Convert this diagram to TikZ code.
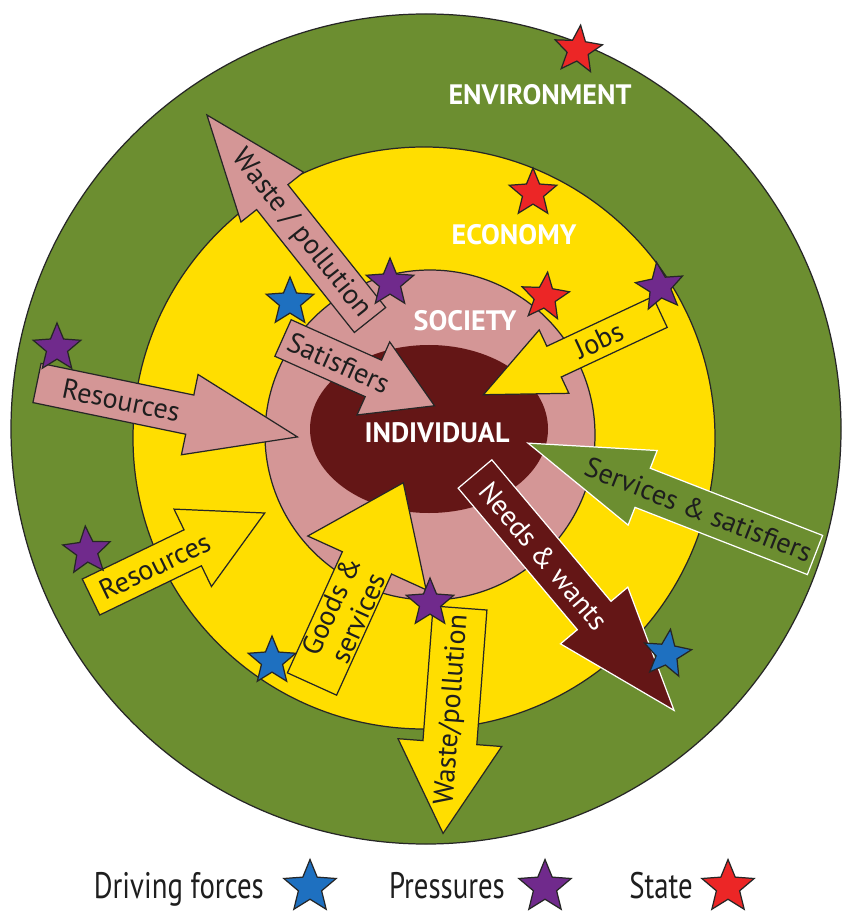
\documentclass[tikz,border=0pt]{standalone}
\usepackage{fontspec}
\setmainfont{PT Sans}
\newfontfamily\legendfont[FakeStretch=0.78]{PT Sans}
\usetikzlibrary{shapes.geometric}

\definecolor{envgreen}{RGB}{108,142,48}
\definecolor{ecoyellow}{RGB}{255,222,0}
\definecolor{socpink}{RGB}{212,150,150}
\definecolor{indbrown}{RGB}{100,22,22}
\definecolor{starblue}{RGB}{30,112,192}
\definecolor{starpurple}{RGB}{112,42,140}
\definecolor{starred}{RGB}{236,38,38}
\definecolor{txtdark}{RGB}{30,30,30}

\begin{document}
\begin{tikzpicture}[x=0.02cm, y=-0.02cm,
    ring/.style={draw=black!85, line width=0.7pt},
    ringlabel/.style={text=white, font=\bfseries\fontsize{16}{18}\selectfont},
    arrowlabel/.style={font=\fontsize{16}{17}\selectfont, inner sep=0pt, align=center},
    dpsir/.style={star, star points=5, star point ratio=2.25, minimum size=1cm,
        inner sep=0pt, draw=black!85, line width=0.7pt},
    legendtext/.style={font=\legendfont\fontsize{21}{22}\selectfont, text=txtdark}]

    \useasboundingbox (0,0) rectangle (842,911);
    \fill[white] (0,0) rectangle (842,911);

    % 同心円を描画
    \draw[ring, fill=envgreen] (426,429) circle (415);
    \draw[ring, fill=ecoyellow] (424,438) circle (291);
    \draw[ring, fill=socpink] (430,435) circle (165);
    \fill[indbrown] (429,429) ellipse [x radius=119, y radius=84];

    % 矢印を描画(始点/角度/長さ/幅/矢じり/色/ラベル)
    \foreach \bx/\by/\ang/\len/\sw/\hw/\hl/\fc/\lc/\tp/\tr/\tc/\nm/\txt in {
        370/320/128.5/262/20/40/105/socpink/black!85/110/-51.5/txtdark/lwup/{Waste / pollution},
        283/338/-24.1/166/20/40/67/socpink/black!85/61/-24.1/txtdark/lsat/{Satisfiers},
        37/383/-11.7/266/20/41/110/socpink/black!85/86/-11.7/txtdark/lresp/{Resources},
        91/597/25.8/193/20/43/80/ecoyellow/black!85/71/25.8/txtdark/lresy/{Resources},
        660/312/205.1/195/17/35/78/ecoyellow/black!85/67/25.1/txtdark/ljobs/{Jobs},
        815/555/158.7/308/21/40/123/envgreen/white/125/-21.3/txtdark/lserv/{Services \& satisfiers},
        475/474/-49.9/309/22/44/124/indbrown/white/107/-49.9/white/lneed/{Needs \& wants},
        312/684/65.6/221/27/65/88/ecoyellow/black!85/79/65.6/txtdark/lgood/{Goods \&\\services},
        460/608/-94.3/226/27/52/91/ecoyellow/black!85/102/85.7/txtdark/lwdn/{Waste/pollution}}
    {
        \begin{scope}[shift={(\bx,\by)}, rotate=\ang]
            \draw[fill=\fc, draw=\lc, line width=0.7pt]
                (0,-\sw) -- ({\len-\hl},-\sw) -- ({\len-\hl},-\hw) -- (\len,0)
                -- ({\len-\hl},\hw) -- ({\len-\hl},\sw) -- (0,\sw) -- cycle;
            \node[arrowlabel, text=\tc, rotate=\tr] (\nm) at (\tp,0) {\txt};
        \end{scope}
    }

    % 各円のラベル
    \node[ringlabel] (env) at (540,95) {ENVIRONMENT};
    \node[ringlabel] (eco) at (514,235) {ECONOMY};
    \node[ringlabel] (soc) at (465,321) {SOCIETY};
    \node[ringlabel] (ind) at (437,433) {INDIVIDUAL};

    % 星を配置
    \foreach \x/\y/\c/\r/\nm in {
        578/50/starred/-6/sS1, 533/193/starred/0/sS2, 545/297/starred/-6/sS3,
        660/287/starpurple/8/sP1, 390/283/starpurple/0/sP2, 57/348/starpurple/0/sP3,
        87/551/starpurple/4/sP4, 430/603/starpurple/0/sP5,
        290/302/starblue/0/sD1, 272/661/starblue/0/sD2, 667/654/starblue/-8/sD3}
        \node[dpsir, fill=\c, rotate=\r] (\nm) at (\x,\y) {};

    % 凡例
    \node[legendtext, anchor=base east] (ldf) at (270,898) {Driving forces};
    \node[dpsir, fill=starblue, minimum size=1.1cm] (lsD) at (310,887) {};
    \node[legendtext, anchor=base east] (lpr) at (511,898) {Pressures};
    \node[dpsir, fill=starpurple, minimum size=1.1cm] (lsP) at (545,887) {};
    \node[legendtext, anchor=base east] (lst) at (699,898) {State};
    \node[dpsir, fill=starred, minimum size=1.1cm] (lsS) at (728,887) {};
\end{tikzpicture}
\end{document}
